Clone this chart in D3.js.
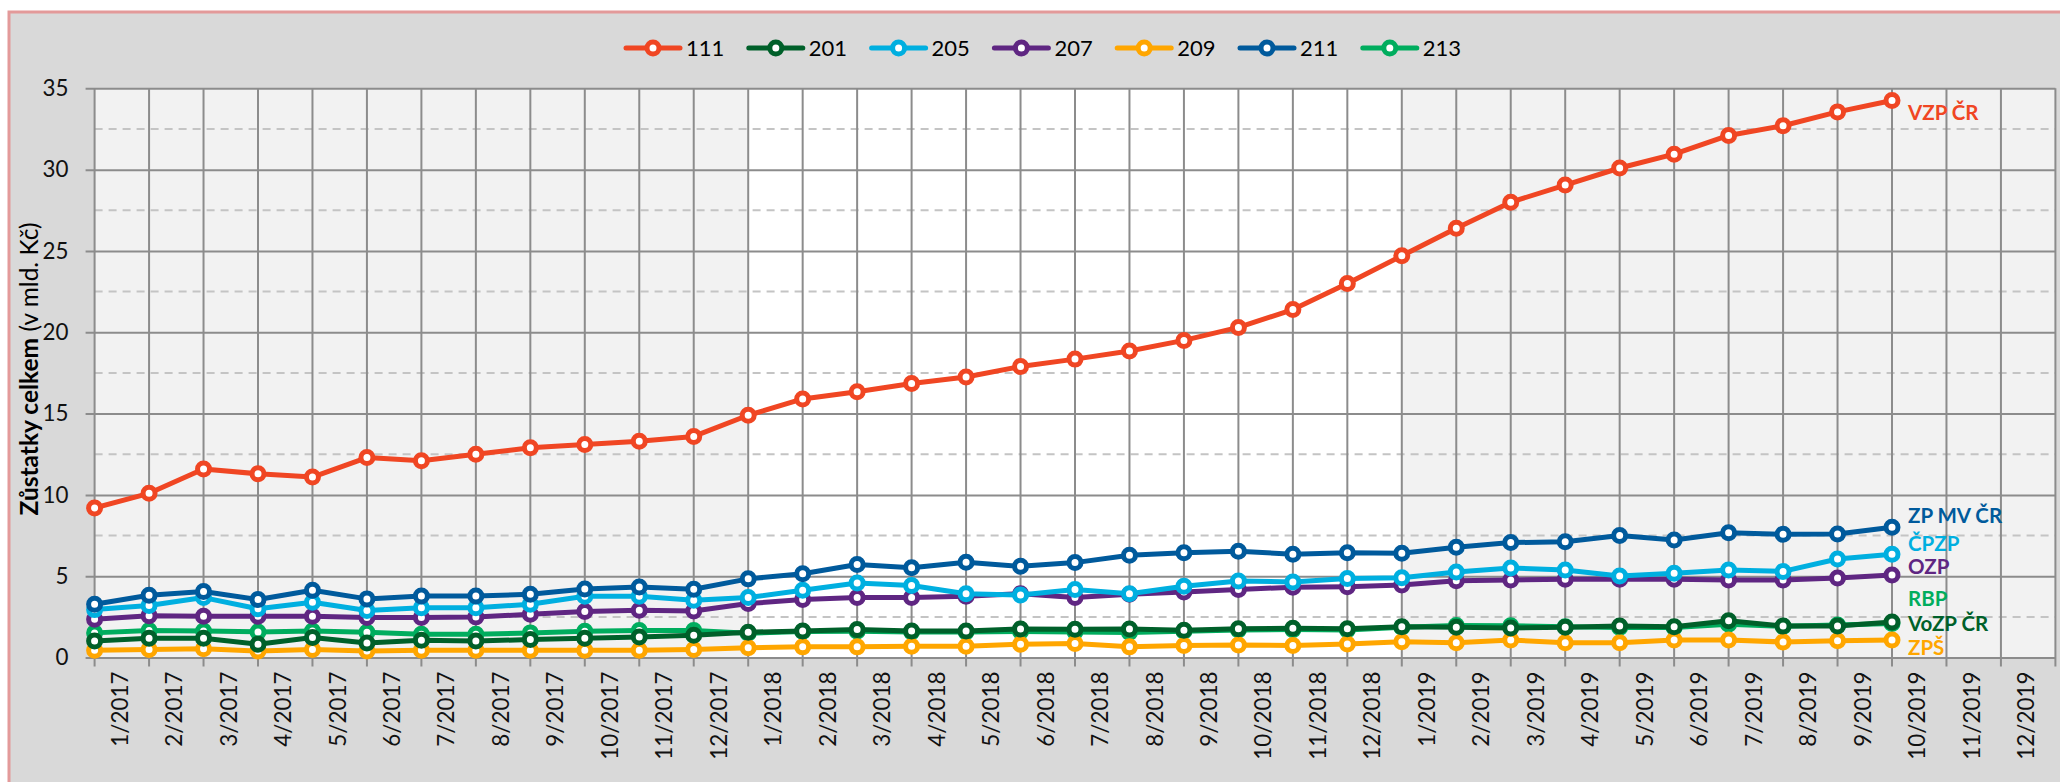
<!DOCTYPE html>
<html>
<head>
<meta charset="utf-8">
<script src="https://cdn.jsdelivr.net/npm/d3@7"></script>
<style>
  body { margin: 0; background: #fff; }
  svg { display: block; font-family: Lato, "Open Sans", sans-serif; }
</style>
</head>
<body>
<svg id="chart"></svg>
<script>
const months = [
  "1/2017", "2/2017", "3/2017", "4/2017", "5/2017", "6/2017", "7/2017", "8/2017", "9/2017", "10/2017", "11/2017", "12/2017",
  "1/2018", "2/2018", "3/2018", "4/2018", "5/2018", "6/2018", "7/2018", "8/2018", "9/2018", "10/2018", "11/2018", "12/2018",
  "1/2019", "2/2019", "3/2019", "4/2019", "5/2019", "6/2019", "7/2019", "8/2019", "9/2019", "10/2019", "11/2019", "12/2019"
];

const yTicks = [0, 5, 10, 15, 20, 25, 30, 35];

// zustatky celkem v mld. Kc, 1/2017 .. 10/2019
const s111 = [9.2, 10.1, 11.6, 11.3, 11.1, 12.3, 12.1, 12.5, 12.9, 13.1, 13.3, 13.6,
  14.9, 15.9, 16.35, 16.85, 17.25, 17.9, 18.35, 18.85, 19.5, 20.3, 21.4, 23.0,
  24.7, 26.4, 28.0, 29.05, 30.1, 30.95, 32.1, 32.7, 33.55, 34.25];
const s201 = [1.02, 1.19, 1.19, 0.82, 1.23, 0.9, 1.07, 1.02, 1.11, 1.19, 1.27, 1.37,
  1.56, 1.64, 1.72, 1.64, 1.64, 1.76, 1.74, 1.76, 1.68, 1.78, 1.8, 1.78,
  1.9, 1.86, 1.82, 1.86, 1.94, 1.9, 2.27, 1.94, 1.94, 2.19];
const s205 = [2.95, 3.2, 3.69, 3.0, 3.4, 2.9, 3.07, 3.07, 3.28, 3.77, 3.77, 3.52,
  3.69, 4.14, 4.59, 4.43, 3.93, 3.85, 4.18, 3.93, 4.39, 4.71, 4.65, 4.87,
  4.91, 5.26, 5.51, 5.38, 5.02, 5.18, 5.38, 5.3, 6.06, 6.35];
const s207 = [2.36, 2.58, 2.54, 2.54, 2.54, 2.46, 2.46, 2.5, 2.66, 2.83, 2.91, 2.87,
  3.32, 3.57, 3.69, 3.69, 3.77, 3.93, 3.69, 3.89, 4.04, 4.18, 4.33, 4.36,
  4.46, 4.73, 4.77, 4.81, 4.81, 4.81, 4.77, 4.77, 4.89, 5.08];
const s209 = [0.45, 0.5, 0.55, 0.4, 0.5, 0.4, 0.45, 0.45, 0.45, 0.45, 0.45, 0.5,
  0.61, 0.66, 0.66, 0.7, 0.7, 0.82, 0.86, 0.66, 0.74, 0.78, 0.74, 0.84,
  0.98, 0.92, 1.08, 0.92, 0.92, 1.08, 1.08, 0.96, 1.04, 1.08];
const s211 = [3.28, 3.83, 4.06, 3.57, 4.14, 3.61, 3.79, 3.79, 3.89, 4.22, 4.34, 4.2,
  4.84, 5.16, 5.72, 5.53, 5.86, 5.61, 5.84, 6.29, 6.45, 6.54, 6.36, 6.45,
  6.41, 6.78, 7.07, 7.12, 7.51, 7.23, 7.68, 7.58, 7.6, 8.01];
const s213 = [1.52, 1.66, 1.64, 1.58, 1.64, 1.56, 1.43, 1.43, 1.52, 1.62, 1.66, 1.66,
  1.5, 1.6, 1.62, 1.58, 1.58, 1.6, 1.58, 1.55, 1.62, 1.7, 1.72, 1.7,
  1.86, 1.98, 1.96, 1.9, 1.85, 1.85, 2.05, 1.92, 2.0, 2.1];

const seriesCodes = ["111", "201", "205", "207", "209", "211", "213"];
const seriesValues = [s111, s201, s205, s207, s209, s211, s213];
const seriesColors = ["#f04623", "#00602a", "#00afe0", "#5f2682", "#ffa600", "#005a9c", "#00ad5e"];
const seriesNames = ["VZP ČR", "VoZP ČR", "ČPZP", "OZP", "ZPŠ", "ZP MV ČR", "RBP"];

const width = 2060, height = 782;
const margin = { top: 88.3, right: 4.6, bottom: 124.4, left: 94.6 };
const innerW = width - margin.left - margin.right;
const innerH = height - margin.top - margin.bottom;

const svg = d3.select("#chart").attr("width", width).attr("height", height);

// outer frame
svg.append("rect")
  .attr("x", 9).attr("y", 12)
  .attr("width", width + 20).attr("height", height + 20)
  .attr("fill", "#d9d9d9")
  .attr("stroke", "#e39a9a")
  .attr("stroke-width", 3);

const g = svg.append("g").attr("transform", `translate(${margin.left},${margin.top})`);

const xBand = d3.scaleBand().domain(months).range([0, innerW]).padding(0);
const xEdge = d3.scaleLinear().domain([0, months.length]).range([0, innerW]);
const y = d3.scaleLinear().domain([0, 35]).range([innerH, 0]);

// plot background: years alternate
const years = ["2017", "2018", "2019"];
g.selectAll("rect.year").data(years).join("rect")
  .attr("class", "year")
  .attr("x", (d, i) => xEdge(i * 12))
  .attr("y", 0)
  .attr("width", xEdge(12) - xEdge(0))
  .attr("height", innerH)
  .attr("fill", (d, i) => i === 1 ? "#ffffff" : "#f2f2f2");

// minor dashed grid
const minor = d3.range(2.5, 35, 5);
g.selectAll("line.minor").data(minor).join("line")
  .attr("x1", 0).attr("x2", innerW)
  .attr("y1", d => y(d)).attr("y2", d => y(d))
  .attr("stroke", "#c4c4c4").attr("stroke-width", 2)
  .attr("stroke-dasharray", "8,6");

// vertical grid + tick marks under the axis
g.selectAll("line.vgrid").data(d3.range(months.length + 1)).join("line")
  .attr("x1", d => xEdge(d)).attr("x2", d => xEdge(d))
  .attr("y1", 0).attr("y2", innerH + 9)
  .attr("stroke", "#8c8c8c").attr("stroke-width", 2);

// y axis with major grid
const yAxis = g.append("g")
  .call(d3.axisLeft(y).tickValues(yTicks).tickSizeInner(-innerW).tickSizeOuter(0).tickPadding(26));
yAxis.select(".domain").remove();
yAxis.selectAll(".tick line").attr("stroke", "#8c8c8c").attr("stroke-width", 2).attr("x1", -9);
yAxis.selectAll(".tick text").attr("font-size", 22.4).attr("fill", "#111").attr("font-family", "Lato");

// x axis labels, rotated
const xAxis = g.append("g")
  .attr("transform", `translate(0,${innerH})`)
  .call(d3.axisBottom(xBand).tickSize(0));
xAxis.select(".domain").remove();
xAxis.selectAll(".tick text")
  .attr("font-size", 22.4).attr("fill", "#111").attr("font-family", "Lato")
  .attr("transform", "rotate(-90)")
  .attr("text-anchor", "end")
  .attr("x", -14).attr("y", -2).attr("dy", "0.35em");

// y axis title
svg.append("text")
  .attr("transform", `translate(38,${margin.top + innerH / 2 - 4}) rotate(-90)`)
  .attr("text-anchor", "middle")
  .attr("font-size", 24.5)
  .attr("fill", "#000")
  .call(t => {
    t.append("tspan").attr("font-weight", "bold").text("Zůstatky celkem");
    t.append("tspan").text(" (v mld. Kč)");
  });

// lines, drawn so that overlaps look like the original
const drawOrder = [6, 4, 3, 2, 5, 1, 0];
const line = d3.line()
  .x((d, i) => xBand(months[i]))
  .y(d => y(d));

drawOrder.forEach(k => {
  const sg = g.append("g");
  sg.append("path")
    .attr("d", line(seriesValues[k]))
    .attr("fill", "none")
    .attr("stroke", seriesColors[k])
    .attr("stroke-width", 5)
    .attr("stroke-linejoin", "round");
  sg.selectAll("circle").data(seriesValues[k]).join("circle")
    .attr("cx", (d, i) => xBand(months[i]))
    .attr("cy", d => y(d))
    .attr("r", 6)
    .attr("fill", "#fff")
    .attr("stroke", seriesColors[k])
    .attr("stroke-width", 5);
});

// end labels next to the last point
const labelNudge = [12, 2, -10, -8, 8, -11, -25];
seriesValues.forEach((vals, k) => {
  const last = vals.length - 1;
  g.append("text")
    .attr("x", xBand(months[last]) + 16)
    .attr("y", y(vals[last]) + labelNudge[k])
    .attr("dy", "0.35em")
    .attr("font-size", 20.5)
    .attr("font-weight", "bold")
    .attr("fill", seriesColors[k])
    .text(seriesNames[k]);
});

// legend
const legend = svg.append("g").attr("transform", "translate(626,48)");
const item = legend.selectAll("g").data(seriesCodes).join("g")
  .attr("transform", (d, i) => `translate(${i * 122.8},0)`);
item.append("line")
  .attr("x1", 0).attr("x2", 54)
  .attr("stroke", (d, i) => seriesColors[i])
  .attr("stroke-width", 5)
  .attr("stroke-linecap", "round");
item.append("circle")
  .attr("cx", 27).attr("r", 6)
  .attr("fill", "#fff")
  .attr("stroke", (d, i) => seriesColors[i])
  .attr("stroke-width", 5);
item.append("text")
  .attr("x", 60).attr("dy", "0.35em")
  .attr("font-size", 22)
  .attr("fill", "#000")
  .text(d => d);
</script>
</body>
</html>
